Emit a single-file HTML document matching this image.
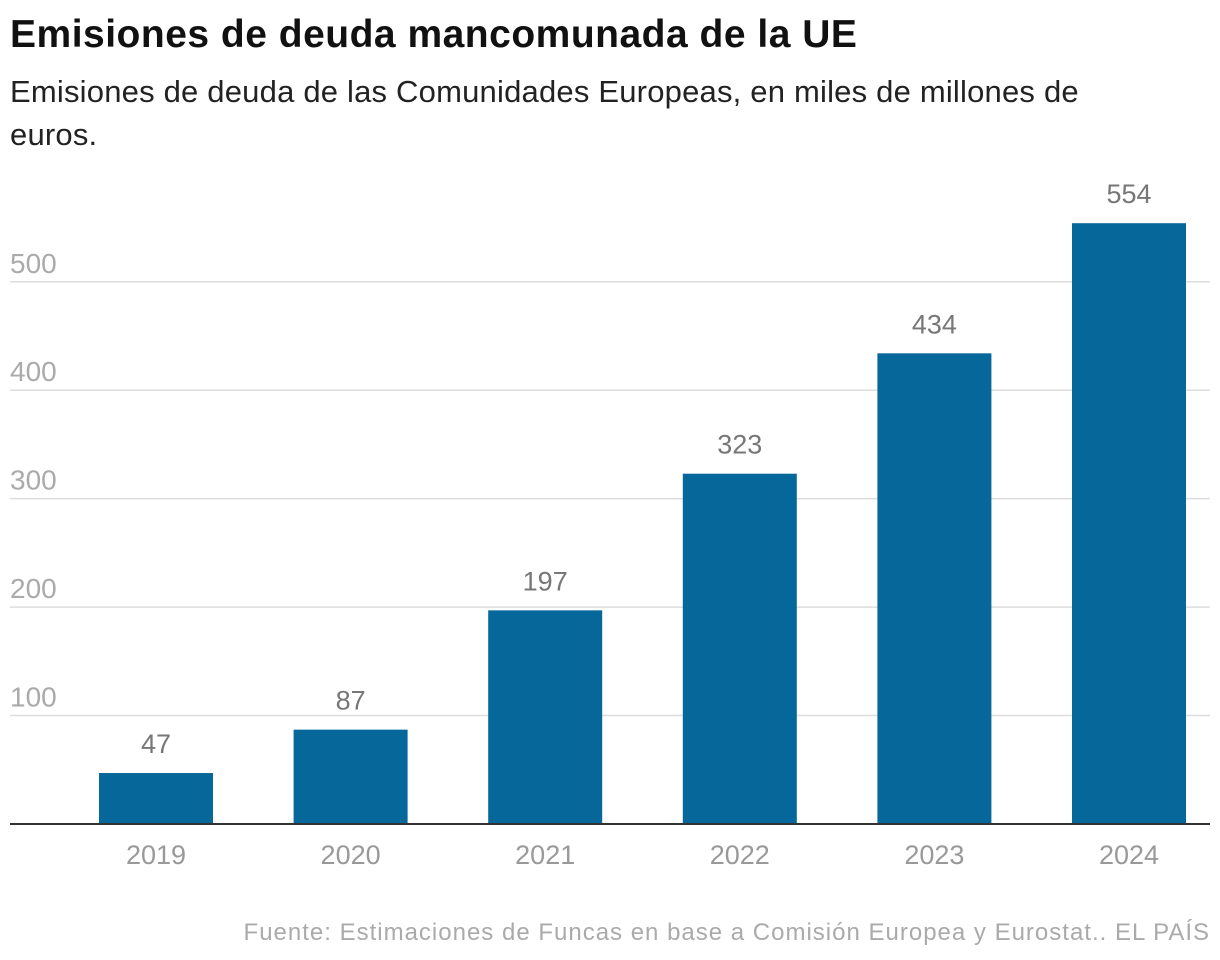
<!DOCTYPE html>
<html><head><meta charset="utf-8"><style>
body{margin:0;background:#fff;width:1220px;height:960px;overflow:hidden;font-family:"Liberation Sans",sans-serif;}
#title{position:absolute;left:10px;top:13px;font-size:39px;font-weight:bold;color:#111;letter-spacing:0.5px}
#sub{position:absolute;left:10px;top:70px;width:1100px;font-size:31px;line-height:43px;color:#222;letter-spacing:0.2px}
svg{position:absolute;left:0;top:0}
</style></head><body>
<div id="title">Emisiones de deuda mancomunada de la UE</div>
<div id="sub">Emisiones de deuda de las Comunidades Europeas, en miles de millones de euros.</div>
<svg id="chart" width="1220" height="960"></svg>
<script>
const categories=["2019","2020","2021","2022","2023","2024"];
const values=[47,87,197,323,434,554];
const yTicks=[100,200,300,400,500];
const NS="http://www.w3.org/2000/svg";
const svg=document.getElementById('chart');
const y=v=>824-v*1.0845;
const xc=i=>156+i*194.6;
const bw=114;
function mk(t,a){const e=document.createElementNS(NS,t);for(const k in a)e.setAttribute(k,a[k]);svg.appendChild(e);return e;}
yTicks.forEach(t=>{
  const l=mk('line',{x1:10,x2:1210,y1:y(t),y2:y(t),stroke:'#ddd','stroke-width':1.5});
  
  
  const tx=mk('text',{x:10,y:y(t)-9,'font-size':28,fill:'#aaa'});
  tx.textContent=t;
  
  
});
values.forEach((v,i)=>{
  const r=mk('rect',{x:xc(i)-bw/2,y:y(v),width:bw,height:824-y(v),fill:'#06689a'});
  
  
  const t=mk('text',{x:xc(i),y:y(v)-20,'font-size':27,fill:'#777','text-anchor':'middle'});
  t.textContent=v;
  
  
  const c=mk('text',{x:xc(i),y:864,'font-size':27,fill:'#999','text-anchor':'middle'});
  c.textContent=categories[i];
  
  
});
const b=mk('line',{x1:10,x2:1210,y1:824,y2:824,stroke:'#333','stroke-width':2});


const s=mk('text',{x:1210,y:940,'font-size':24,fill:'#aaa','text-anchor':'end','letter-spacing':1});
s.textContent="Fuente: Estimaciones de Funcas en base a Comisión Europea y Eurostat.. EL PAÍS";


</script>
</body></html>
